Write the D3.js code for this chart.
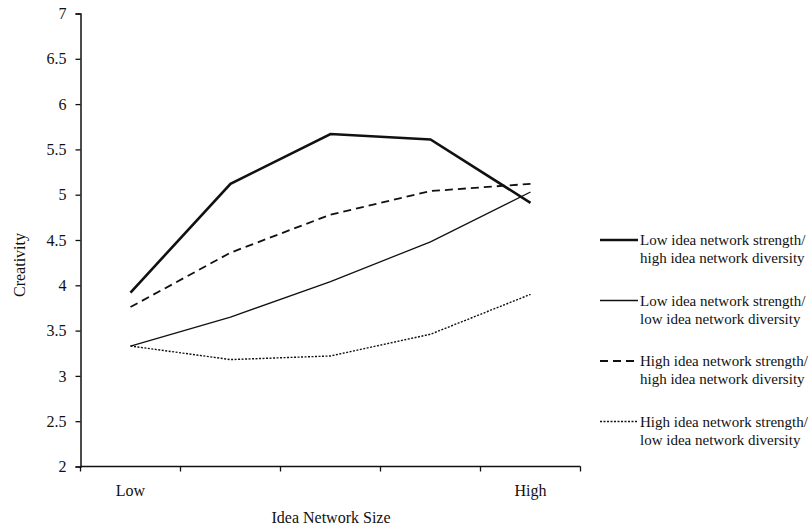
<!DOCTYPE html>
<html>
<head>
<meta charset="utf-8">
<script src="https://cdn.jsdelivr.net/npm/d3@7"></script>
<style>
  body { margin: 0; background: #fff; }
  text { font-family: "Liberation Serif", "Times New Roman", serif; fill: #111; }
</style>
</head>
<body>
<svg width="812" height="527"></svg>
<script>
// five steps of idea network size, only the ends are labelled
var sizes = ['s1', 's2', 's3', 's4', 's5'];
var sizeLabels = ['Low', '', '', '', 'High'];
var yTicks = [2, 2.5, 3, 3.5, 4, 4.5, 5, 5.5, 6, 6.5, 7];

var lowStrHighDiv = [3.92, 5.12, 5.67, 5.61, 4.91];
var lowStrLowDiv = [3.33, 3.65, 4.04, 4.48, 5.03];
var highStrHighDiv = [3.76, 4.36, 4.78, 5.04, 5.12];
var highStrLowDiv = [3.33, 3.18, 3.22, 3.46, 3.90];

var seriesNames = [
  ['Low idea network strength/', 'high idea network diversity'],
  ['Low idea network strength/', 'low idea network diversity'],
  ['High idea network strength/', 'high idea network diversity'],
  ['High idea network strength/', 'low idea network diversity']
];

var series = [
  { name: seriesNames[0], values: lowStrHighDiv, width: 2.6, dash: null },
  { name: seriesNames[1], values: lowStrLowDiv, width: 1.3, dash: null },
  { name: seriesNames[2], values: highStrHighDiv, width: 1.8, dash: '8,5' },
  { name: seriesNames[3], values: highStrLowDiv, width: 1.4, dash: '2,1.5' }
];

var svg = d3.select('svg');

var x = d3.scaleBand().domain(sizes).range([80.5, 580.5]);
var y = d3.scaleLinear().domain([2, 7]).range([466.5, 13.5]);

// y axis
var yAxis = svg.append('g')
  .attr('transform', 'translate(80.5,0)')
  .call(d3.axisLeft(y).tickValues(yTicks).tickSize(5).tickPadding(9)
    .tickFormat(function(d) { return d; }));
yAxis.selectAll('text').style('font-size', '16px');
yAxis.select('.domain').attr('stroke', '#111').attr('stroke-width', 1.5);
yAxis.selectAll('line').attr('stroke', '#111').attr('stroke-width', 1.3);

// x axis, ticks sit between the categories
var xAxis = svg.append('g')
  .attr('transform', 'translate(0,466.5)');
xAxis.append('line')
  .attr('x1', 80.5).attr('x2', 580.5)
  .attr('stroke', '#111').attr('stroke-width', 1.5);
xAxis.selectAll('.tk')
  .data(sizes.concat(['end']))
  .enter()
  .append('line')
  .attr('x1', function(d, i) { return i < sizes.length ? x(d) : x.range()[1]; })
  .attr('x2', function(d, i) { return i < sizes.length ? x(d) : x.range()[1]; })
  .attr('y1', 0).attr('y2', 5)
  .attr('stroke', '#111').attr('stroke-width', 1.3);
xAxis.selectAll('.lbl')
  .data(sizes)
  .enter()
  .append('text')
  .attr('x', function(d) { return x(d) + x.bandwidth() / 2; })
  .attr('y', 29)
  .attr('text-anchor', 'middle')
  .style('font-size', '16px')
  .text(function(d, i) { return sizeLabels[i]; });

// axis titles
svg.append('text')
  .attr('transform', 'translate(25,265) rotate(-90)')
  .attr('text-anchor', 'middle')
  .style('font-size', '16px')
  .text('Creativity');

svg.append('text')
  .attr('x', 331).attr('y', 523)
  .attr('text-anchor', 'middle')
  .style('font-size', '16px')
  .text('Idea Network Size');

// lines
var line = d3.line()
  .x(function(d, i) { return x(sizes[i]) + x.bandwidth() / 2; })
  .y(function(d) { return y(d); });

svg.selectAll('.series')
  .data(series)
  .enter()
  .append('path')
  .attr('d', function(d) { return line(d.values); })
  .attr('fill', 'none')
  .attr('stroke', '#111')
  .attr('stroke-width', function(d) { return d.width; })
  .attr('stroke-dasharray', function(d) { return d.dash; });

// legend
var legend = svg.selectAll('.leg')
  .data(series)
  .enter()
  .append('g')
  .attr('transform', function(d, i) { return 'translate(600,' + (240 + i * 60.5) + ')'; });

legend.append('line')
  .attr('x1', 0).attr('x2', 38)
  .attr('stroke', '#111')
  .attr('stroke-width', function(d) { return d.width; })
  .attr('stroke-dasharray', function(d) { return d.dash; });

legend.append('text')
  .attr('x', 40).attr('y', 5)
  .style('font-size', '15px')
  .text(function(d) { return d.name[0]; });
legend.append('text')
  .attr('x', 40).attr('y', 23)
  .style('font-size', '15px')
  .text(function(d) { return d.name[1]; });
</script>
</body>
</html>
